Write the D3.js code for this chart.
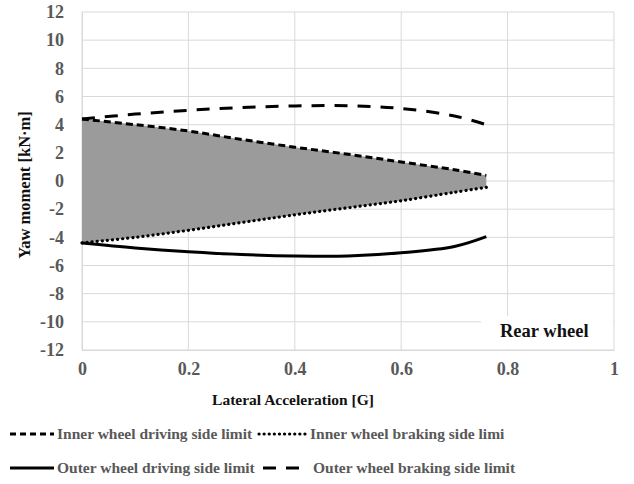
<!DOCTYPE html>
<html>
<head>
<meta charset="utf-8">
<script src="https://cdn.jsdelivr.net/npm/d3@7"></script>
<style>
  html, body { margin: 0; padding: 0; background: #fff; }
  svg { display: block; }
</style>
</head>
<body>
<svg id="chart" width="634" height="484"></svg>
<script>
// Lateral acceleration samples [G]
const accel = [0, 0.1, 0.2, 0.3, 0.4, 0.5, 0.6, 0.7, 0.76];
// Yaw moment limits [kN·m]
const innerDriving = [4.4, 4.0, 3.55, 2.95, 2.4, 1.9, 1.35, 0.8, 0.4];
const innerBraking = [-4.4, -4.0, -3.5, -2.95, -2.4, -1.9, -1.4, -0.8, -0.45];
const outerDriving = [-4.4, -4.75, -5.02, -5.22, -5.33, -5.33, -5.1, -4.65, -3.95];
const outerBraking = [4.4, 4.75, 5.02, 5.22, 5.33, 5.35, 5.15, 4.62, 4.0];

const xTicks = [0, 0.2, 0.4, 0.6, 0.8, 1];
const yTicks = [-12, -10, -8, -6, -4, -2, 0, 2, 4, 6, 8, 10, 12];

const seriesNames = [
  "Inner wheel driving side limit",
  "Inner wheel braking side limi",
  "Outer wheel driving side limit",
  "Outer wheel braking side limit"
];

const svg = d3.select("#chart");
const serif = "'Liberation Serif', 'Times New Roman', serif";
const plotL = 82, plotR = 614, plotT = 12, plotB = 350;

const x = d3.scaleLinear().domain([0, 1]).range([plotL, plotR]);
const y = d3.scaleLinear().domain([-12, 12]).range([plotB, plotT]);

// grid
const grid = svg.append("g");
grid.selectAll("line.h").data(yTicks).join("line")
  .attr("x1", plotL).attr("x2", plotR)
  .attr("y1", d => y(d)).attr("y2", d => y(d))
  .attr("stroke", "#d9d9d9").attr("stroke-width", 1);
grid.selectAll("line.v").data(xTicks).join("line")
  .attr("y1", plotT).attr("y2", plotB)
  .attr("x1", d => x(d)).attr("x2", d => x(d))
  .attr("stroke", "#d9d9d9").attr("stroke-width", 1);

// axes (plain hyphen for negatives)
const yAxis = d3.axisLeft(y).tickValues(yTicks).tickSize(0).tickPadding(18).tickFormat(d => String(d));
const xAxis = d3.axisBottom(x).tickValues(xTicks).tickSize(0).tickPadding(12).tickFormat(d => String(d));

const gy = svg.append("g").attr("transform", `translate(${plotL},0)`).call(yAxis);
const gx = svg.append("g").attr("transform", `translate(0,${plotB})`).call(xAxis);
[gx, gy].forEach(g => {
  g.select(".domain").attr("stroke", "#d9d9d9");
  g.selectAll("text").attr("font-family", serif).attr("font-weight", "bold")
    .attr("font-size", 18).attr("fill", "#595959");
});

// shaded feasible band between inner-wheel limits
const pts = accel.map((a, i) => ({ a, hi: innerDriving[i], lo: innerBraking[i] }));
svg.append("path")
  .datum(pts)
  .attr("fill", "#9b9b9b")
  .attr("d", d3.area().x(d => x(d.a)).y0(d => y(d.lo)).y1(d => y(d.hi)).curve(d3.curveCatmullRom));

const lineGen = vals => d3.line()
  .x((d, i) => x(accel[i])).y(d => y(d))
  .curve(d3.curveCatmullRom)(vals);

const styles = [
  { data: innerDriving, dash: "7,4", cap: "butt", w: 3 },
  { data: innerBraking, dash: "0.1,5", cap: "round", w: 3.2 },
  { data: outerDriving, dash: null, cap: "butt", w: 3 },
  { data: outerBraking, dash: "13,10", cap: "butt", w: 3 }
];

styles.forEach(s => {
  svg.append("path")
    .attr("d", lineGen(s.data))
    .attr("fill", "none").attr("stroke", "#000")
    .attr("stroke-width", s.w)
    .attr("stroke-linecap", s.cap)
    .attr("stroke-dasharray", s.dash);
});

// panel label
svg.append("rect").attr("x", 481).attr("y", 316).attr("width", 132).attr("height", 33).attr("fill", "#fff");
svg.append("text").attr("x", 500).attr("y", 337)
  .attr("font-family", serif).attr("font-weight", "bold").attr("font-size", 18.5)
  .attr("fill", "#111").text("Rear wheel");

// axis titles
svg.append("text").attr("x", 293).attr("y", 405).attr("text-anchor", "middle")
  .attr("font-family", serif).attr("font-weight", "bold").attr("font-size", 15.5)
  .attr("fill", "#111").text("Lateral Acceleration [G]");
svg.append("text").attr("transform", "translate(30,185) rotate(-90)").attr("text-anchor", "middle")
  .attr("font-family", serif).attr("font-weight", "bold").attr("font-size", 16.5)
  .attr("fill", "#111").text("Yaw moment [kN·m]");

// legend
const legendItems = [
  { name: seriesNames[0], x0: 10, x1: 54, tx: 57, ty: 439, ly: 434, style: styles[0], legDash: "6,4" },
  { name: seriesNames[1], x0: 259, x1: 305, tx: 310, ty: 439, ly: 434, style: styles[1], legDash: "0.1,5" },
  { name: seriesNames[2], x0: 10, x1: 54, tx: 57, ty: 473, ly: 468, style: styles[2], legDash: null },
  { name: seriesNames[3], x0: 263, x1: 302, tx: 313, ty: 473, ly: 468, style: styles[3], legDash: "13,10" }
];
const leg = svg.append("g");
legendItems.forEach(it => {
  leg.append("line").attr("x1", it.x0).attr("x2", it.x1).attr("y1", it.ly).attr("y2", it.ly)
    .attr("stroke", "#000").attr("stroke-width", it.style.w)
    .attr("stroke-linecap", it.style.cap).attr("stroke-dasharray", it.legDash);
  leg.append("text").attr("x", it.tx).attr("y", it.ty)
    .attr("font-family", serif).attr("font-weight", "bold").attr("font-size", 15.5)
    .attr("fill", "#595959").text(it.name);
});
</script>
</body>
</html>
